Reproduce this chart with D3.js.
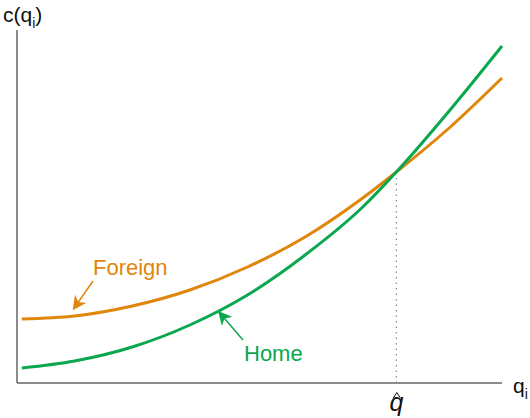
<!DOCTYPE html>
<html>
<head>
<meta charset="utf-8">
<script src="https://cdn.jsdelivr.net/npm/d3@7"></script>
<style>
  html, body { margin: 0; padding: 0; background: #fff; }
  svg { display: block; }
  text { font-family: "Liberation Sans", Arial, sans-serif; }
</style>
</head>
<body>
<svg id="chart" width="530" height="418"></svg>
<script>
// Output levels (q) at which the cost curves are sampled
const quantities = [0.1, 1.2, 2.4, 3.6, 4.8, 6.0, 7.2, 7.9, 9.0, 10.1];
// Cost c(q) for each firm at those output levels
const homeCost    = [1.5, 2.2, 3.6, 5.8, 8.8, 12.8, 17.6, 21.1, 27.2, 33.7];
const foreignCost = [6.4, 6.7, 7.7, 9.3, 11.6, 14.6, 18.5, 21.1, 25.5, 30.5];
// Output level where the two cost curves cross
const qHat = 7.9;
const qHatCost = 21.1;

const seriesNames = ["Home", "Foreign"];
const colors = { Home: "#0aa74e", Foreign: "#e0860a" };

const svg = d3.select("#chart");

const x = d3.scaleLinear().domain([0, 10.1]).range([17, 502]);
const y = d3.scaleLinear().domain([0, 35.3]).range([383, 30]);

// Arrowheads for the curve labels
const defs = svg.append("defs");
seriesNames.forEach(name => {
  defs.append("marker")
    .attr("id", "arrow-" + name)
    .attr("viewBox", "0 0 10 10")
    .attr("refX", 9).attr("refY", 5)
    .attr("markerWidth", 14).attr("markerHeight", 14)
    .attr("markerUnits", "userSpaceOnUse")
    .attr("orient", "auto")
    .append("path")
    .attr("d", "M0,0 L10,5 L0,10 L3,5 Z")
    .attr("fill", colors[name]);
});

// Axes
svg.append("line")
  .attr("x1", x(0)).attr("x2", x(0))
  .attr("y1", y(0)).attr("y2", y(35.3))
  .attr("stroke", "#666").attr("stroke-width", 1.5);
svg.append("line")
  .attr("x1", x(0)).attr("x2", x(10.1))
  .attr("y1", y(0)).attr("y2", y(0))
  .attr("stroke", "#666").attr("stroke-width", 1.5);

// Dotted guide at the crossing point
svg.append("line")
  .attr("x1", x(qHat)).attr("x2", x(qHat))
  .attr("y1", y(0)).attr("y2", y(qHatCost))
  .attr("stroke", "#888").attr("stroke-width", 1.2)
  .attr("stroke-dasharray", "1.5,4");

// Cost curves
const line = d3.line()
  .x(d => x(d[0]))
  .y(d => y(d[1]))
  .curve(d3.curveMonotoneX);

const series = [
  { name: "Foreign", values: foreignCost },
  { name: "Home", values: homeCost }
];
series.forEach(s => {
  svg.append("path")
    .datum(quantities.map((q, i) => [q, s.values[i]]))
    .attr("fill", "none")
    .attr("stroke", colors[s.name])
    .attr("stroke-width", 3)
    .attr("d", line);
});

// Curve labels with pointers
svg.append("text")
  .attr("x", 93).attr("y", 275)
  .attr("font-size", 22)
  .attr("fill", colors.Foreign)
  .text("Foreign");
svg.append("line")
  .attr("x1", 93).attr("y1", 281)
  .attr("x2", 73.5).attr("y2", 309)
  .attr("stroke", colors.Foreign).attr("stroke-width", 1.5)
  .attr("marker-end", "url(#arrow-Foreign)");

svg.append("text")
  .attr("x", 244).attr("y", 361)
  .attr("font-size", 22)
  .attr("fill", colors.Home)
  .text("Home");
svg.append("line")
  .attr("x1", 243).attr("y1", 340)
  .attr("x2", 219).attr("y2", 312)
  .attr("stroke", colors.Home).attr("stroke-width", 1.5)
  .attr("marker-end", "url(#arrow-Home)");

// Axis titles
const yTitle = svg.append("text")
  .attr("x", 3).attr("y", 22)
  .attr("font-size", 21)
  .attr("fill", "#111");
yTitle.append("tspan").text("c(q");
yTitle.append("tspan").attr("font-size", 14).attr("dy", 6).text("i");
yTitle.append("tspan").attr("dy", -6).text(")");

const xTitle = svg.append("text")
  .attr("x", 513).attr("y", 393)
  .attr("font-size", 21)
  .attr("fill", "#111");
xTitle.append("tspan").text("q");
xTitle.append("tspan").attr("font-size", 14).attr("dy", 6).text("i");

// q-hat label under the guide: italic q with a hat drawn above it
const qLabel = svg.append("g").attr("transform", `translate(${x(qHat)},0)`);
qLabel.append("text")
  .attr("x", 0).attr("y", 411)
  .attr("text-anchor", "middle")
  .attr("font-family", "'Liberation Serif', 'DejaVu Serif', serif")
  .attr("font-style", "italic")
  .attr("font-size", 25)
  .attr("fill", "#111")
  .text("q");
qLabel.append("path")
  .attr("d", "M-3,398 L0.5,392.5 L4,398")
  .attr("fill", "none")
  .attr("stroke", "#111")
  .attr("stroke-width", 1);
</script>
</body>
</html>
